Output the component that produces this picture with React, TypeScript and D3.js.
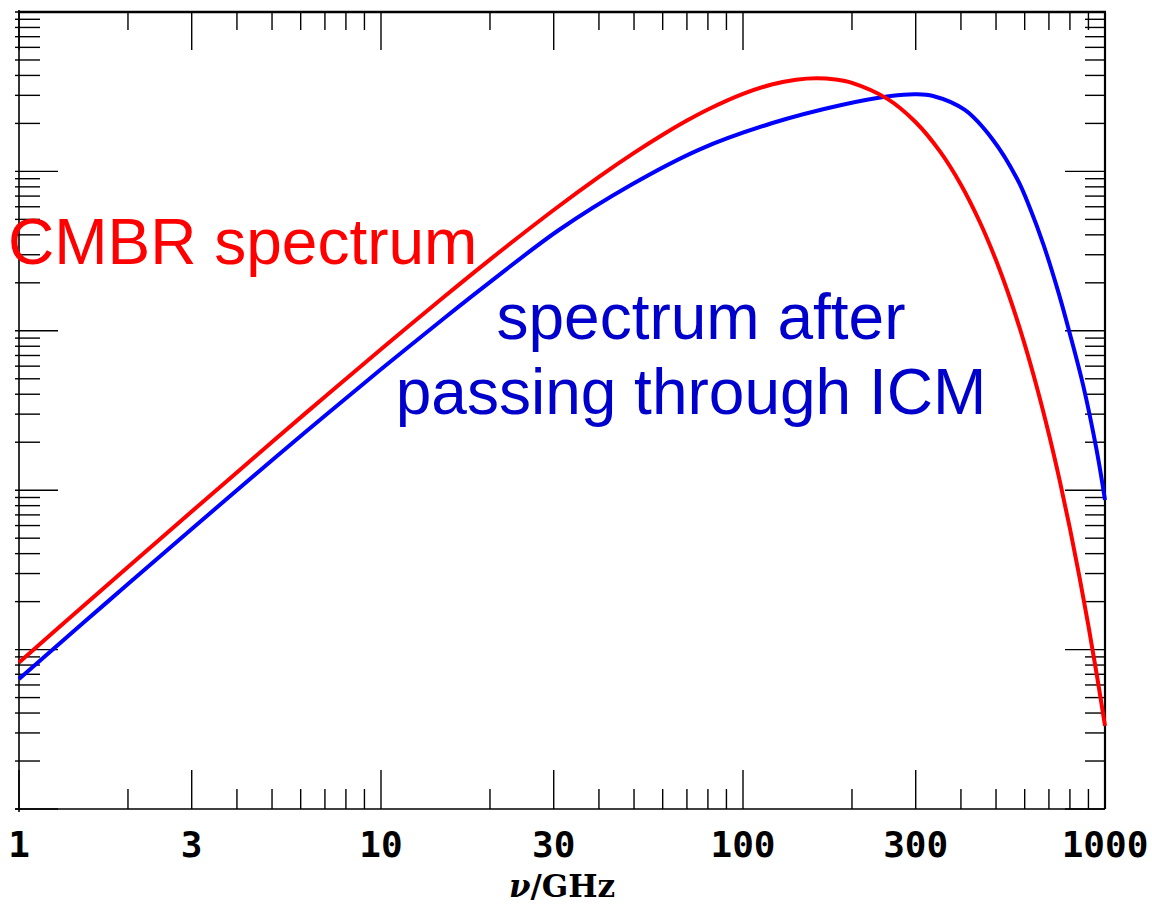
import React from "react";
import * as d3 from "d3";

// Frequencies (GHz) and intensities (MJy/sr)
const cmbFreq = [1, 1.5, 2, 3, 5, 7, 10, 15, 20, 30, 40, 50, 60, 70, 80, 100, 120, 140, 160, 180, 200, 250, 300, 350, 400, 450, 500, 550, 600, 650, 700, 750, 800, 850, 900, 950, 1000];
const cmbIntensity = [0.0831, 0.1862, 0.3296, 0.7351, 2.005, 3.861, 7.668, 16.48, 27.98, 57.27, 92.4, 130.7, 169.9, 208.4, 244.6, 306.4, 350.7, 376.2, 384.2, 377.6, 359.5, 286.0, 203.4, 133.5, 82.52, 48.66, 27.68, 15.27, 8.22, 4.333, 2.243, 1.144, 0.5755, 0.2862, 0.1408, 0.06868, 0.0332];

const szFreq = [1, 1.5, 2, 3, 5, 7, 10, 15, 20, 31, 49, 76, 120, 187, 256, 300, 335, 410, 490, 574, 621, 675, 743, 800, 871, 949, 1000];
const szIntensity = [0.0654, 0.1462, 0.2577, 0.5712, 1.54, 2.934, 5.736, 12.08, 20.2, 42.9, 82.2, 137.6, 200.4, 261.0, 297.2, 304.6, 297.2, 242.8, 158.0, 88.3, 58.5, 35.1, 17.54, 9.548, 4.511, 1.762, 0.868];

const xTickLabels = [1, 3, 10, 30, 100, 300, 1000];
const xDecades = [1, 10, 100];
const yDecades = [0.01, 0.1, 1, 10, 100];
const multipliers = [1, 2, 3, 4, 5, 6, 7, 8, 9];

export default function App() {
  const W = 1152, H = 905;
  const L = 19, R = 1105, T = 12, B = 809;
  const x = d3.scaleLog().domain([1, 1000]).range([L, R]);
  const y = d3.scaleLog().domain([0.01, 1000]).range([B, T]);

  const line = d3
    .line<[number, number]>()
    .x((d) => x(d[0]))
    .y((d) => y(d[1]))
    .curve(d3.curveCatmullRom.alpha(0.5));

  const cmbPts = cmbFreq.map((f, i) => [f, cmbIntensity[i]] as [number, number]);
  const szPts = szFreq.map((f, i) => [f, szIntensity[i]] as [number, number]);

  const xTicks: { v: number; major: boolean }[] = [];
  xDecades.forEach((d) =>
    multipliers.forEach((m) => xTicks.push({ v: d * m, major: m === 1 || m === 3 }))
  );
  xTicks.push({ v: 1000, major: true });

  const yTicks: { v: number; major: boolean }[] = [];
  yDecades.forEach((d) =>
    multipliers.forEach((m) => yTicks.push({ v: d * m, major: m === 1 }))
  );
  yTicks.push({ v: 1000, major: true });

  const tw = 1.4;

  return (
    <svg
      width={W}
      height={H}
      style={{ position: "absolute", left: 0, top: 0, background: "#fff" }}
    >
      <rect x={0} y={0} width={W} height={H} fill="#fff" />
      {/* y ticks */}
      {yTicks.map((t, i) => (
        <g key={"y" + i} stroke="#000" strokeWidth={tw}>
          <line x1={15} x2={t.major ? L + 39 : L + 21} y1={y(t.v)} y2={y(t.v)} />
          <line x1={t.major ? R - 40 : R - 20} x2={R} y1={y(t.v)} y2={y(t.v)} />
        </g>
      ))}
      {/* x ticks */}
      {xTicks.map((t, i) => (
        <g key={"x" + i} stroke="#000" strokeWidth={tw}>
          <line x1={x(t.v)} x2={x(t.v)} y1={B} y2={t.major ? B - 39 : B - 20} />
          <line x1={x(t.v)} x2={x(t.v)} y1={T} y2={t.major ? T + 38 : T + 18} />
        </g>
      ))}
      {/* frame */}
      <line x1={L} x2={L} y1={T - 2} y2={B + 3} stroke="#000" strokeWidth={1.6} />
      <line x1={15} x2={R} y1={B} y2={B} stroke="#000" strokeWidth={1.6} />
      <line x1={L} x2={R + 1} y1={T} y2={T} stroke="#000" strokeWidth={2.4} />
      <line x1={R} x2={R} y1={T} y2={B} stroke="#000" strokeWidth={2.2} />

      {/* curves */}
      <path d={line(szPts) || ""} fill="none" stroke="#0000ff" strokeWidth={4} />
      <path d={line(cmbPts) || ""} fill="none" stroke="#ff0000" strokeWidth={4} />

      {/* x tick labels */}
      {xTickLabels.map((v) => (
        <text
          key={"l" + v}
          x={x(v)}
          y={857}
          textAnchor="middle"
          fontFamily="DejaVu Sans Mono"
          fontWeight="bold"
          fontSize={36}
          fill="#000"
        >
          {v}
        </text>
      ))}
      <text
        x={562}
        y={897}
        textAnchor="middle"
        fontFamily="DejaVu Serif"
        fontWeight="bold"
        fontSize={31}
        fill="#000"
      >
        <tspan fontStyle="italic">ν</tspan>/GHz
      </text>

      {/* annotations */}
      <text x={8} y={264} fontFamily="Liberation Sans" fontSize={64} fill="#ff0000">
        CMBR spectrum
      </text>
      <text x={701} y={339} textAnchor="middle" fontFamily="Liberation Sans" fontSize={64} fill="#0000cc">
        spectrum after
      </text>
      <text x={691} y={414} textAnchor="middle" fontFamily="Liberation Sans" fontSize={64} fill="#0000cc">
        passing through ICM
      </text>
    </svg>
  );
}
